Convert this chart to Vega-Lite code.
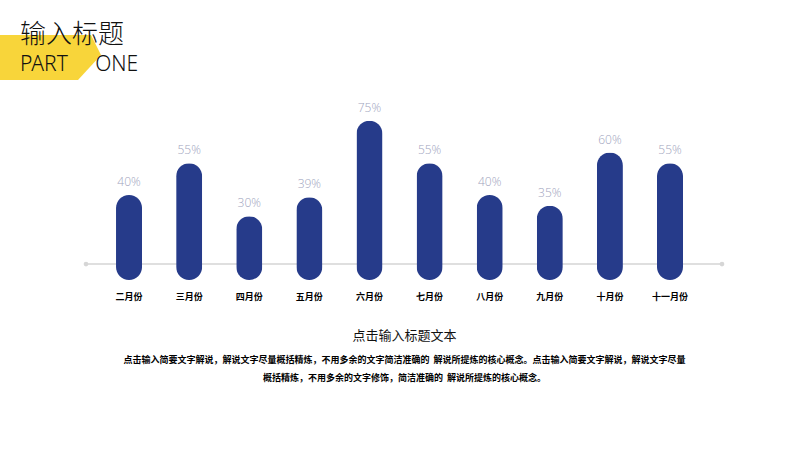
{
  "$schema": "https://vega.github.io/schema/vega-lite/v6.json",
  "autosize": {"type": "none"},
  "width": 636,
  "height": 170,
  "padding": {"left": 86, "top": 110, "right": 78, "bottom": 170},
  "background": "#ffffff",
  "config": {
    "view": {"stroke": null},
    "axis": {"grid": false},
    "font": "Noto Sans CJK SC"
  },
  "title": {
    "text": "输入标题",
    "subtitle": "PART\u00a0\u00a0\u00a0\u00a0\u00a0ONE",
    "anchor": "start",
    "frame": "bounds",
    "font": "Noto Sans CJK SC",
    "fontSize": 26,
    "fontWeight": 300,
    "color": "#111111",
    "subtitleFont": "Noto Sans",
    "subtitleFontSize": 21,
    "subtitleFontWeight": 300,
    "subtitleColor": "#111111",
    "subtitlePadding": 6,
    "dx": 20,
    "offset": -40
  },
  "data": {
    "values": [
      {"month": "二月份", "value": 40, "label": "40%"},
      {"month": "三月份", "value": 55, "label": "55%"},
      {"month": "四月份", "value": 30, "label": "30%"},
      {"month": "五月份", "value": 39, "label": "39%"},
      {"month": "六月份", "value": 75, "label": "75%"},
      {"month": "七月份", "value": 55, "label": "55%"},
      {"month": "八月份", "value": 40, "label": "40%"},
      {"month": "九月份", "value": 35, "label": "35%"},
      {"month": "十月份", "value": 60, "label": "60%"},
      {"month": "十一月份", "value": 55, "label": "55%"}
    ]
  },
  "layer": [
    {
      "data": {"values": [{"side": "left"}, {"side": "right"}]},
      "layer": [
        {
          "mark": {"type": "rule", "color": "#dcdcdc", "strokeWidth": 1.5},
          "encoding": {"y": {"datum": 7.5, "type": "quantitative"}}
        },
        {
          "mark": {"type": "point", "filled": true, "color": "#d6d6d6", "size": 22, "opacity": 1},
          "encoding": {
            "x": {
              "field": "side",
              "type": "nominal",
              "scale": {"type": "point", "padding": 0},
              "axis": {
                "orient": "bottom",
                "labels": false,
                "ticks": false,
                "domain": false,
                "title": [
                  "点击输入简要文字解说，解说文字尽量概括精炼，不用多余的文字简洁准确的\u00a0\u00a0解说所提炼的核心概念。点击输入简要文字解说，解说文字尽量",
                  "概括精炼，不用多余的文字修饰，简洁准确的\u00a0\u00a0解说所提炼的核心概念。"
                ],
                "titleFont": "Noto Sans CJK SC",
                "titleFontSize": 9,
                "titleFontWeight": "bold",
                "titleColor": "#000000",
                "titleLineHeight": 18,
                "titlePadding": 75
              }
            },
            "y": {"datum": 7.5, "type": "quantitative"}
          }
        }
      ]
    },
    {
      "layer": [
        {
          "mark": {"type": "bar", "color": "#263b8a", "cornerRadius": 13},
          "encoding": {
            "x": {
              "field": "month",
              "type": "nominal",
              "sort": null,
              "scale": {"paddingInner": 0.567, "paddingOuter": 0.574, "align": 0.435},
              "axis": {
                "orient": "bottom",
                "labelAngle": 0,
                "labelFont": "Noto Sans CJK SC",
                "labelFontSize": 9,
                "labelFontWeight": "bold",
                "labelColor": "#000000",
                "labelPadding": 12,
                "ticks": false,
                "domain": false,
                "title": "点击输入标题文本",
                "titleFont": "Noto Sans CJK SC",
                "titleFontSize": 13,
                "titleFontWeight": "normal",
                "titleColor": "#111111",
                "titlePadding": 28
              }
            },
            "y": {
              "field": "value",
              "type": "quantitative",
              "scale": {"domain": [0, 80]},
              "axis": null
            }
          }
        },
        {
          "mark": {"type": "text", "baseline": "bottom", "dy": -6, "font": "Open Sans", "fontSize": 12, "fontWeight": 300, "color": "#9ea3bd"},
          "encoding": {
            "x": {"field": "month", "type": "nominal", "sort": null},
            "y": {"field": "value", "type": "quantitative"},
            "text": {"field": "label", "type": "nominal"}
          }
        }
      ]
    },
    {
      "data": {"values": [{"badge": "PART ONE"}]},
      "mark": {
        "type": "point",
        "filled": true,
        "opacity": 1,
        "color": "#f8d53a",
        "size": 40000,
        "shape": "M -4.04 -1.6 L -3.13 -1.6 L -3.03 -1.4 L -3.26 -1.15 L -4.04 -1.15 Z"
      },
      "encoding": {}
    }
  ],
  "resolve": {"scale": {"x": "independent"}}
}
